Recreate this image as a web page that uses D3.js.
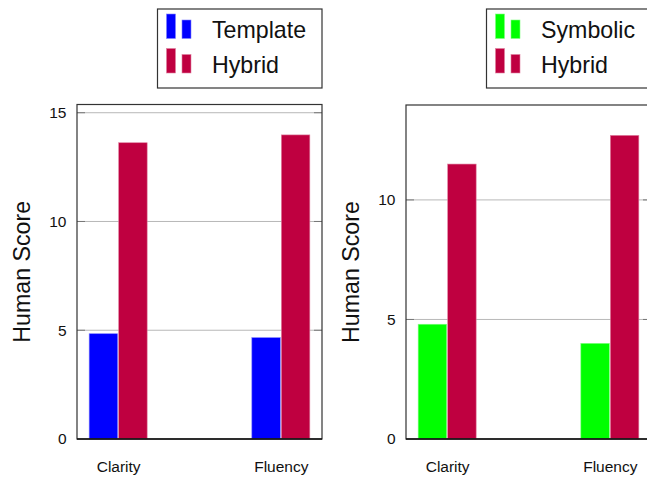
<!DOCTYPE html>
<html>
<head>
<meta charset="utf-8">
<script src="https://cdn.jsdelivr.net/npm/d3@7"></script>
<style>
  html, body { margin: 0; padding: 0; background: #fff; }
  svg { display: block; font-family: "Liberation Sans", Arial, Helvetica, sans-serif; }
</style>
</head>
<body>
<svg id="chart" width="647" height="477"></svg>
<script>
// Categories shared by both panels
const categories = ["Clarity", "Fluency"];

// Left panel: Template vs Hybrid
const leftSeries = ["Template", "Hybrid"];
const leftTemplate = [4.84, 4.66];
const leftHybrid = [13.62, 13.98];
const leftTicks = [0, 5, 10, 15];

// Right panel: Symbolic vs Hybrid
const rightSeries = ["Symbolic", "Hybrid"];
const rightSymbolic = [4.8, 4.0];
const rightHybrid = [11.5, 12.7];
const rightTicks = [0, 5, 10];

const yTitle = "Human Score";

const svg = d3.select("#chart");

const panels = [
  {
    x: 77, y: 104.5, w: 245, h: 334.5,
    series: leftSeries,
    values: [leftTemplate, leftHybrid],
    colors: ["#0000ff", "#bf0040"],
    edges: ["#8080ff", "#df80a0"],
    ticks: leftTicks
  },
  {
    x: 406, y: 105, w: 245, h: 334,
    series: rightSeries,
    values: [rightSymbolic, rightHybrid],
    colors: ["#00ff00", "#bf0040"],
    edges: ["#80ff80", "#df80a0"],
    ticks: rightTicks
  }
];

panels.forEach(p => {
  const g = svg.append("g").attr("transform", `translate(${p.x},${p.y})`);

  const dataMax = d3.max(p.values.flat());
  const y = d3.scaleLinear().domain([0, dataMax * 1.1]).range([p.h, 0]);
  const x0 = d3.scalePoint().domain(categories).range([0, p.w]).padding(0.253);
  const x1 = d3.scaleBand().domain(p.series).range([-29, 29]).paddingInner(0.035);

  // grid lines
  g.append("g").selectAll("line").data(p.ticks.filter(t => t > 0)).join("line")
    .attr("x1", 0).attr("x2", p.w)
    .attr("y1", d => y(d)).attr("y2", d => y(d))
    .attr("stroke", "#b8b8b8").attr("stroke-width", 1);

  // inner tick marks on both sides
  const tk = g.append("g");
  tk.selectAll("line.l").data(p.ticks.filter(t => t > 0)).join("line").attr("class", "l")
    .attr("x1", 0).attr("x2", 8)
    .attr("y1", d => y(d)).attr("y2", d => y(d))
    .attr("stroke", "#777").attr("stroke-width", 1);
  tk.selectAll("line.r").data(p.ticks.filter(t => t > 0)).join("line").attr("class", "r")
    .attr("x1", p.w - 8).attr("x2", p.w)
    .attr("y1", d => y(d)).attr("y2", d => y(d))
    .attr("stroke", "#777").attr("stroke-width", 1);

  // bars
  p.series.forEach((s, si) => {
    g.append("g").selectAll("rect").data(categories.map((c, ci) => ({ c, v: p.values[si][ci] })))
      .join("rect")
      .attr("x", d => x0(d.c) + x1(s))
      .attr("width", x1.bandwidth())
      .attr("y", d => y(d.v))
      .attr("height", d => y(0) - y(d.v))
      .attr("fill", p.colors[si])
      .attr("stroke", p.edges[si])
      .attr("stroke-width", 0.6);
  });

  // frame
  g.append("rect").attr("x", 0).attr("y", 0).attr("width", p.w).attr("height", p.h)
    .attr("fill", "none").attr("stroke", "#333").attr("stroke-width", 1.2);
  g.append("line").attr("x1", 0).attr("x2", p.w).attr("y1", p.h).attr("y2", p.h)
    .attr("stroke", "#111").attr("stroke-width", 1.6);

  // y tick labels
  const yAxis = d3.axisLeft(y).tickValues(p.ticks).tickSize(0).tickPadding(10.5).tickFormat(d3.format("d"));
  const ya = g.append("g").call(yAxis);
  ya.select(".domain").remove();
  ya.selectAll("text").attr("font-size", 15.5).attr("fill", "#111")
    .attr("font-family", "'Liberation Sans', Arial, sans-serif");

  // x category labels
  const xAxis = d3.axisBottom(x0).tickSize(0).tickPadding(22);
  const xa = g.append("g").attr("transform", `translate(0,${p.h})`).call(xAxis);
  xa.select(".domain").remove();
  xa.selectAll("text").attr("font-size", 15.5).attr("fill", "#111")
    .attr("font-family", "'Liberation Sans', Arial, sans-serif");

  // y title
  g.append("text")
    .attr("transform", `translate(-55,${p.h / 2}) rotate(-90)`)
    .attr("text-anchor", "middle").attr("dominant-baseline", "central")
    .attr("font-size", 23.2).attr("fill", "#111")
    .text(yTitle);

  // legend anchored to the panel's top-right corner, above it
  const lw = 164.5, lh = 79;
  const lg = svg.append("g").attr("transform", `translate(${p.x + p.w - lw},9)`);
  lg.append("rect").attr("width", lw).attr("height", lh)
    .attr("fill", "#fff").attr("stroke", "#333").attr("stroke-width", 1.2);
  p.series.forEach((s, si) => {
    const row = lg.append("g").attr("transform", `translate(0,${si * 34.5})`);
    row.append("rect").attr("x", 9).attr("y", 5).attr("width", 9).attr("height", 24.5)
      .attr("fill", p.colors[si]).attr("stroke", p.edges[si]).attr("stroke-width", 0.6);
    row.append("rect").attr("x", 24.5).attr("y", 11).attr("width", 9).attr("height", 18.5)
      .attr("fill", p.colors[si]).attr("stroke", p.edges[si]).attr("stroke-width", 0.6);
    row.append("text").attr("x", 54.5).attr("y", 29.3)
      .attr("font-size", 23.2).attr("fill", "#111").text(s);
  });
});
</script>
</body>
</html>
